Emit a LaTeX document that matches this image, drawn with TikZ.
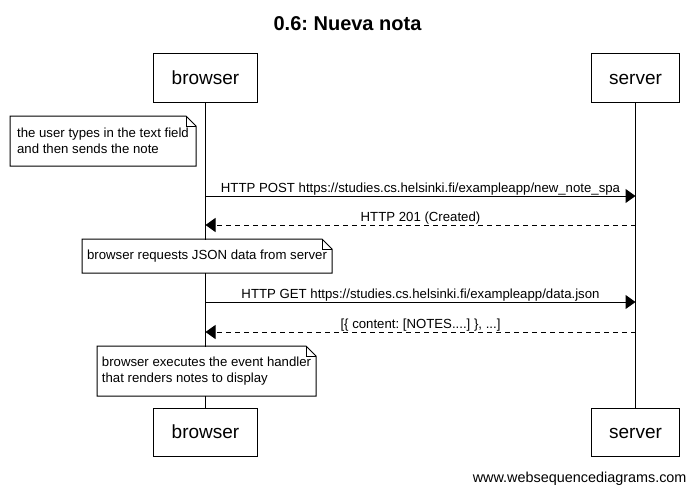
\documentclass[tikz,border=0pt]{standalone}
\usepackage{fontspec}
\setmainfont{Liberation Sans}
\usetikzlibrary{arrows.meta}
\frenchspacing
\begin{document}
\begin{tikzpicture}[x=1pt, y=-1pt, line width=1pt, >={Triangle[length=10pt,width=14pt]},
  actor/.style={draw, fill=white, inner xsep=18pt, inner ysep=0pt, text height=13.8pt, text depth=0pt, minimum height=49pt, font=\fontsize{19}{22}\selectfont},
  notebox/.style={fill=white, align=left, anchor=north west, inner sep=0pt, font=\fontsize{13.2}{16}\selectfont},
  msg/.style={anchor=base, yshift=4pt, inner sep=0pt, font=\fontsize{13.2}{16}\selectfont},
  reply/.style={->, dash pattern=on 5pt off 4pt}]
\useasboundingbox (0,0) rectangle (695,491);
\node[anchor=base, font=\bfseries\fontsize{20}{24}\selectfont] (title) at (347.5,30) {0.6: Nueva nota};
% participants
\node[actor] (b1) at (205.5,77.5) {browser};
\node[actor] (s1) at (635.5,77.5) {server};
\node[actor, minimum height=48pt] (b2) at (205.5,432) {browser};
\node[actor, minimum height=48pt] (s2) at (635.5,432) {server};
\draw (b1) -- (b2);
\draw (s1) -- (s2);
% notes
\node[notebox, minimum width=185pt, minimum height=49pt] (n1) at (10,116) {the user types in the text field\\and then sends the note};
\node[notebox, minimum width=249pt, minimum height=33pt] (n2) at (82,239) {browser requests JSON data from server};
\node[notebox, minimum width=218pt, minimum height=49pt] (n3) at (97,346) {browser executes the event handler\\that renders notes to display};
\foreach \n in {n1,n2,n3} {
  \draw (\n.north west) -- ([xshift=-10pt]\n.north east) -- ([yshift=-10pt]\n.north east) -- (\n.south east) -- (\n.south west) -- cycle;
  \draw ([xshift=-10pt]\n.north east) |- ([yshift=-10pt]\n.north east);
}
% messages
\coordinate (post) at (0,196);
\coordinate (created) at (0,225);
\coordinate (get) at (0,302);
\coordinate (json) at (0,332);
\draw[->] (b1 |- post) -- node[msg] {HTTP POST https://studies.cs.helsinki.fi/exampleapp/new\_note\_spa} (s1 |- post);
\draw[reply] (s1 |- created) -- node[msg] {HTTP 201 (Created)} (b1 |- created);
\draw[->] (b1 |- get) -- node[msg] {HTTP GET https://studies.cs.helsinki.fi/exampleapp/data.json} (s1 |- get);
\draw[reply] (s1 |- json) -- node[msg] {[\{ content: [NOTES....] \}, ...]} (b1 |- json);
\node[anchor=base east, inner sep=0pt, font=\fontsize{14.4}{17}\selectfont] (wsd) at (687,482) {www.websequencediagrams.com};
\end{tikzpicture}
\end{document}
